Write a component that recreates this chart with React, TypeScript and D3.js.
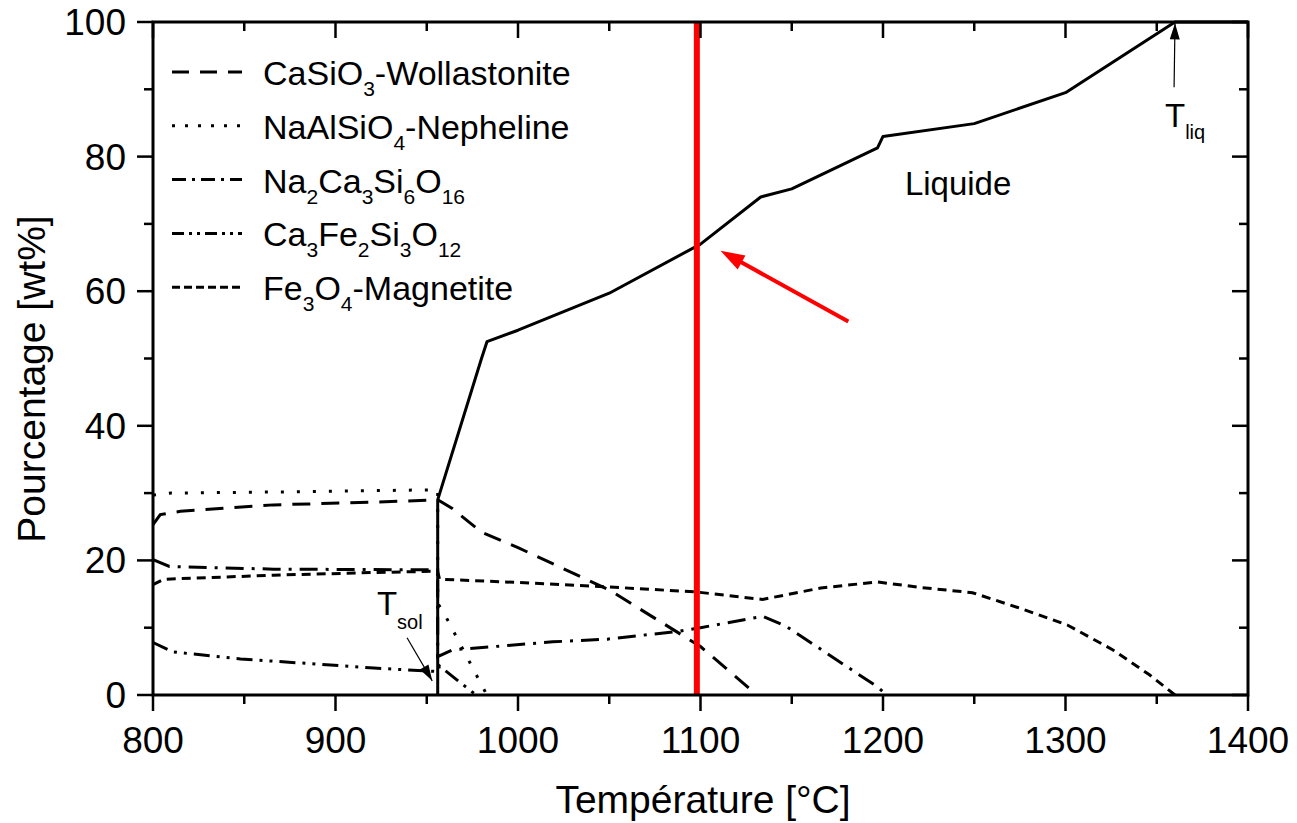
import React from "react";
import * as d3 from "d3";

// ---- data ----
const liquidT = [956, 956, 980, 983, 1000, 1050, 1100, 1133, 1150, 1197, 1200, 1250, 1300, 1360, 1400];
const liquidV = [0, 29, 50, 52.5, 54.2, 59.7, 67, 74, 75.2, 81.3, 83, 84.9, 89.5, 100, 100];

const wollT = [800, 804, 815, 866, 921, 956, 964, 980, 1000, 1050, 1100, 1131];
const wollV = [25.3, 26.8, 27.3, 28.25, 28.65, 29.0, 27.7, 24.2, 21.9, 15.6, 7.2, 0];

const nephT = [800, 810, 880, 956, 956, 959, 981, 983];
const nephV = [29.7, 30.0, 30.2, 30.5, 13.6, 12.4, 1.0, 0];

const na2T = [800, 809, 866, 956, 956, 964, 1019, 1049, 1089, 1100, 1134, 1147, 1197, 1202];
const na2V = [20.1, 19.1, 18.7, 18.6, 5.7, 6.7, 7.9, 8.3, 9.5, 10.0, 11.7, 10.2, 1.2, 0];

const ca3T = [800, 811, 848, 884, 921, 948, 956, 957, 977];
const ca3V = [7.8, 6.4, 5.35, 4.7, 4.0, 3.6, 3.5, 4.3, 0];

const magT = [800, 806, 866, 921, 956, 957, 1001, 1047, 1098, 1134, 1166, 1197, 1220, 1249, 1275, 1301, 1326, 1346, 1360];
const magV = [16.4, 17.2, 17.8, 18.2, 18.4, 17.2, 16.7, 16.1, 15.3, 14.2, 15.9, 16.8, 16.0, 15.2, 12.9, 10.4, 6.7, 3.0, 0];

const xMajor = [800, 900, 1000, 1100, 1200, 1300, 1400];
const xMinor = [850, 950, 1050, 1150, 1250, 1350];
const yMajor = [0, 20, 40, 60, 80, 100];
const yMinor = [10, 30, 50, 70, 90];

const redLineT = 1098;
const redArrowFrom: [number, number] = [1181, 55.5];
const redArrowTo: [number, number] = [1111, 66];
const tsolArrowFrom: [number, number] = [939.2, 8.5];
const tsolArrowTo: [number, number] = [953, 2.1];
const tliqArrowFrom: [number, number] = [1359.5, 90.3];
const tliqArrowTo: [number, number] = [1360, 99.8];
const liquideLabel: [number, number] = [1212, 74.3];
const tsolLabel: [number, number] = [922.7, 11.9];
const tliqLabel: [number, number] = [1354.5, 84.4];

type Seg = { name: string; subs: [string, boolean][]; T: number[]; V: number[]; dash: string; legendDash: string };

const series: Seg[] = [
  { name: "woll", subs: [["CaSiO", false], ["3", true], ["-Wollastonite", false]], T: wollT, V: wollV, dash: "18,11", legendDash: "17,11" },
  { name: "neph", subs: [["NaAlSiO", false], ["4", true], ["-Nepheline", false]], T: nephT, V: nephV, dash: "3,13", legendDash: "3,10" },
  { name: "na2", subs: [["Na", false], ["2", true], ["Ca", false], ["3", true], ["Si", false], ["6", true], ["O", false], ["16", true]], T: na2T, V: na2V, dash: "18,8,3,8", legendDash: "14,6,3,6" },
  { name: "ca3", subs: [["Ca", false], ["3", true], ["Fe", false], ["2", true], ["Si", false], ["3", true], ["O", false], ["12", true]], T: ca3T, V: ca3V, dash: "16,7,3,7,3,7", legendDash: "12,5,3,5,3,5" },
  { name: "mag", subs: [["Fe", false], ["3", true], ["O", false], ["4", true], ["-Magnetite", false]], T: magT, V: magV, dash: "9,6", legendDash: "8,4" },
];

const W = 1297;
const H = 823;
const left = 153, right = 1248, top = 22, bottom = 695;
const FONT = "'Liberation Sans', Arial, Helvetica, sans-serif";

function arrowHead(x1: number, y1: number, x2: number, y2: number, len: number, half: number) {
  const dx = x2 - x1, dy = y2 - y1;
  const L = Math.hypot(dx, dy);
  const ux = dx / L, uy = dy / L;
  const bx = x2 - ux * len, by = y2 - uy * len;
  const px = -uy, py = ux;
  return `${x2},${y2} ${bx + px * half},${by + py * half} ${bx - px * half},${by - py * half}`;
}

export default function App() {
  const x = d3.scaleLinear().domain([800, 1400]).range([left, right]);
  const y = d3.scaleLinear().domain([0, 100]).range([bottom, top]);
  const line = d3
    .line<[number, number]>()
    .x((d) => x(d[0]))
    .y((d) => y(d[1]));
  const pts = (T: number[], V: number[]) => T.map((t, i) => [t, V[i]] as [number, number]);

  const majLen = 16, minLen = 9;
  const legendX1 = 172, legendX2 = 242, legendTextX = 263;
  const legendY0 = 72, legendStep = 53.8;

  const ra1 = [x(redArrowFrom[0]), y(redArrowFrom[1])];
  const ra2 = [x(redArrowTo[0]), y(redArrowTo[1])];
  const ts1 = [x(tsolArrowFrom[0]), y(tsolArrowFrom[1])];
  const ts2 = [x(tsolArrowTo[0]), y(tsolArrowTo[1])];
  const tl1 = [x(tliqArrowFrom[0]), y(tliqArrowFrom[1])];
  const tl2 = [x(tliqArrowTo[0]), y(tliqArrowTo[1])];

  // shorten red arrow line so it ends at the arrowhead base
  const rdx = ra2[0] - ra1[0], rdy = ra2[1] - ra1[1];
  const rL = Math.hypot(rdx, rdy);
  const raEnd = [ra2[0] - (rdx / rL) * 18, ra2[1] - (rdy / rL) * 18];

  return (
    <svg
      width={W}
      height={H}
      style={{ position: "absolute", left: 0, top: 0, background: "#fff" }}
      fontFamily={FONT}
    >
      <rect x={0} y={0} width={W} height={H} fill="#fff" />

      {/* data lines */}
      <path d={line(pts(liquidT, liquidV)) || ""} fill="none" stroke="#000" strokeWidth={3} strokeLinejoin="round" />
      {series.map((s) => (
        <path
          key={s.name}
          d={line(pts(s.T, s.V)) || ""}
          fill="none"
          stroke="#000"
          strokeWidth={3}
          strokeDasharray={s.dash}
        />
      ))}

      {/* red vertical line */}
      <line x1={x(redLineT)} x2={x(redLineT)} y1={y(0)} y2={y(100)} stroke="#ff0000" strokeWidth={6} />

      {/* axes frame */}
      <rect x={left} y={top} width={right - left} height={bottom - top} fill="none" stroke="#000" strokeWidth={3} />

      {/* ticks */}
      {xMajor.map((t) => (
        <g key={"xM" + t}>
          <line x1={x(t)} x2={x(t)} y1={bottom} y2={bottom + majLen} stroke="#000" strokeWidth={2.5} />
          <line x1={x(t)} x2={x(t)} y1={top} y2={top + majLen} stroke="#000" strokeWidth={2.5} />
          <text x={x(t)} y={753} textAnchor="middle" fontSize={37} fill="#000">
            {t}
          </text>
        </g>
      ))}
      {xMinor.map((t) => (
        <g key={"xm" + t}>
          <line x1={x(t)} x2={x(t)} y1={bottom} y2={bottom + minLen} stroke="#000" strokeWidth={2.5} />
          <line x1={x(t)} x2={x(t)} y1={top} y2={top + minLen} stroke="#000" strokeWidth={2.5} />
        </g>
      ))}
      {yMajor.map((v) => (
        <g key={"yM" + v}>
          <line x1={left - majLen} x2={left} y1={y(v)} y2={y(v)} stroke="#000" strokeWidth={2.5} />
          <line x1={right - majLen} x2={right} y1={y(v)} y2={y(v)} stroke="#000" strokeWidth={2.5} />
          <text x={126} y={y(v) + 13} textAnchor="end" fontSize={37} fill="#000">
            {v}
          </text>
        </g>
      ))}
      {yMinor.map((v) => (
        <g key={"ym" + v}>
          <line x1={left - minLen} x2={left} y1={y(v)} y2={y(v)} stroke="#000" strokeWidth={2.5} />
          <line x1={right - minLen} x2={right} y1={y(v)} y2={y(v)} stroke="#000" strokeWidth={2.5} />
        </g>
      ))}

      {/* axis titles */}
      <text x={703} y={813} textAnchor="middle" fontSize={39} fill="#000">
        Température [°C]
      </text>
      <text
        transform={`translate(45, 379) rotate(-90)`}
        textAnchor="middle"
        fontSize={39}
        fill="#000"
      >
        Pourcentage [wt%]
      </text>

      {/* legend */}
      {series.map((s, i) => {
        const ly = legendY0 + i * legendStep;
        return (
          <g key={"lg" + s.name}>
            <line x1={legendX1} x2={legendX2} y1={ly} y2={ly} stroke="#000" strokeWidth={3} strokeDasharray={s.legendDash} />
            <text x={legendTextX} y={ly + 13} fontSize={34} fill="#000">
              {s.subs.map(([t, sub], j) =>
                sub ? (
                  <tspan key={j} fontSize={21} dy={11}>
                    {t}
                  </tspan>
                ) : (
                  <tspan key={j} dy={j > 0 && s.subs[j - 1][1] ? -11 : 0}>
                    {t}
                  </tspan>
                )
              )}
            </text>
          </g>
        );
      })}

      {/* Liquide label */}
      <text x={x(liquideLabel[0])} y={y(liquideLabel[1])} fontSize={33} fill="#000">
        Liquide
      </text>

      {/* T_sol */}
      <text x={x(tsolLabel[0])} y={y(tsolLabel[1])} fontSize={33} fill="#000">
        T<tspan fontSize={20} dy={14}>sol</tspan>
      </text>
      <line x1={ts1[0]} y1={ts1[1]} x2={ts2[0]} y2={ts2[1]} stroke="#000" strokeWidth={1.2} />
      <polygon points={arrowHead(ts1[0], ts1[1], ts2[0], ts2[1], 16, 5)} fill="#000" />

      {/* T_liq */}
      <text x={x(tliqLabel[0])} y={y(tliqLabel[1])} fontSize={33} fill="#000">
        T<tspan fontSize={20} dy={12}>liq</tspan>
      </text>
      <line x1={tl1[0]} y1={tl1[1]} x2={tl2[0]} y2={tl2[1]} stroke="#000" strokeWidth={1.2} />
      <polygon points={arrowHead(tl1[0], tl1[1], tl2[0], tl2[1], 16, 5)} fill="#000" />

      {/* red arrow */}
      <line x1={ra1[0]} y1={ra1[1]} x2={raEnd[0]} y2={raEnd[1]} stroke="#ff0000" strokeWidth={4} />
      <polygon points={arrowHead(ra1[0], ra1[1], ra2[0], ra2[1], 24, 8)} fill="#ff0000" />
    </svg>
  );
}
